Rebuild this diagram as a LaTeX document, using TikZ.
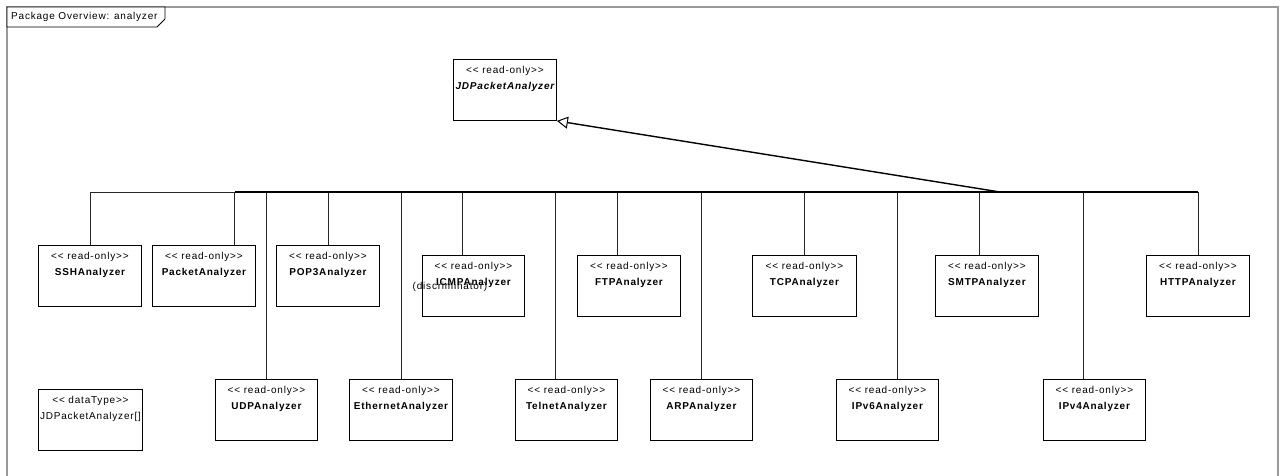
\documentclass[tikz,border=0pt]{standalone}
\usepackage{fontspec}
\setmainfont{Liberation Sans}[LetterSpace=8, Ligatures=TeXOff]
\usetikzlibrary{arrows.meta,calc}

\tikzset{
  classbox/.style={draw=black, line width=0.9pt, fill=white, inner sep=0pt, anchor=north west},
  stereo/.style={font=\fontsize{10}{12}\selectfont, inner sep=0pt},
  cname/.style={font=\fontsize{10}{12}\selectfont\bfseries, inner sep=0pt},
  tree/.style={draw=black!85, line width=0.9pt},
  genline/.style={draw=black, line width=1.4pt,
    -{Triangle[open, length=11pt, width=12pt, line width=1pt, fill=white]}},
  pkgframe/.style={draw=black!40, line width=1.4pt},
  pkgtab/.style={draw=black, line width=0.9pt, fill=white}
}

% class box: name, left x, top y, width, height, stereotype, class name
\newcommand\umlclass[7]{%
  \node[classbox, minimum width=#4pt, minimum height=#5pt] (#1) at (#2,#3) {};
  \node[stereo] (#1-st) at ([yshift=-12pt]#1.north) {#6};
  \node[cname] (#1-nm) at ([yshift=-28pt]#1.north) {#7};
}

\begin{document}
\begin{tikzpicture}[x=1pt, y=-1pt]
\useasboundingbox (0,0) rectangle (1280,476);

% package frame and its title tab
\draw[pkgframe] (7,476) -- (7,7) -- (1278,7) -- (1278,476);
\draw[pkgtab] (7,7) -- (165,7) -- (165,19) -- (157,27) -- (7,27) -- cycle;
\node[anchor=west, inner sep=0pt, font=\fontsize{10}{12}\selectfont] (pkgtitle) at (11,17) {Package Overview: analyzer};

% abstract parent class
\umlclass{jd}{453}{59}{103}{61}{<< read-only>>}{\itshape JDPacketAnalyzer}

% first row of subclasses
\umlclass{ssh}{38}{245}{103}{61}{<< read-only>>}{SSHAnalyzer}
\umlclass{packet}{152}{245}{103}{61}{<< read-only>>}{PacketAnalyzer}
\umlclass{pop}{276}{245}{103}{61}{<< read-only>>}{POP3Analyzer}
\umlclass{icmp}{422}{255}{102}{61}{<< read-only>>}{ICMPAnalyzer}
\umlclass{ftp}{577}{255}{103}{61}{<< read-only>>}{FTPAnalyzer}
\umlclass{tcp}{752}{255}{104}{61}{<< read-only>>}{TCPAnalyzer}
\umlclass{smtp}{935}{255}{103}{61}{<< read-only>>}{SMTPAnalyzer}
\umlclass{http}{1146}{255}{103}{61}{<< read-only>>}{HTTPAnalyzer}

\node[stereo] (discr) at (450,287) {(discriminator)};

% second row of subclasses
\umlclass{udp}{215}{379}{102}{61}{<< read-only>>}{UDPAnalyzer}
\umlclass{eth}{349}{379}{103}{61}{<< read-only>>}{EthernetAnalyzer}
\umlclass{telnet}{515}{379}{102}{61}{<< read-only>>}{TelnetAnalyzer}
\umlclass{arp}{650}{379}{102}{61}{<< read-only>>}{ARPAnalyzer}
\umlclass{ipsix}{836}{379}{102}{61}{<< read-only>>}{IPv6Analyzer}
\umlclass{ipfour}{1043}{379}{102}{61}{<< read-only>>}{IPv4Analyzer}

% array data type
\umlclass{jdarr}{38}{389}{104}{61}{<< dataType>>}{\mdseries JDPacketAnalyzer[]}

% generalization tree
\coordinate (fork) at (1000,192);
\draw[tree] (fork) -| (ssh.north);
\draw[tree] (fork) -| ([xshift=82pt]packet.north west);
\draw[tree] (fork) -| (udp.north);
\draw[tree] (fork) -| (pop.north);
\draw[tree] (fork) -| (eth.north);
\draw[tree] (fork) -| ([xshift=40pt]icmp.north west);
\draw[tree] (fork) -| ([xshift=40pt]telnet.north west);
\draw[tree] (fork) -| ([xshift=40pt]ftp.north west);
\draw[tree] (fork) -| (arp.north);
\draw[tree] (fork) -| (tcp.north);
\draw[tree] (fork) -| ([xshift=61pt]ipsix.north west);
\draw[tree] (fork) -| ([xshift=44pt]smtp.north west);
\draw[tree] (fork) -| ([xshift=40pt]ipfour.north west);
\draw[tree] (fork) -| (http.north);
\draw[line width=1.4pt] (ssh.north |- fork) ++(145,0) -- (http.north |- fork);
\draw[genline] (fork) -- (jd.south east);
\end{tikzpicture}
\end{document}
